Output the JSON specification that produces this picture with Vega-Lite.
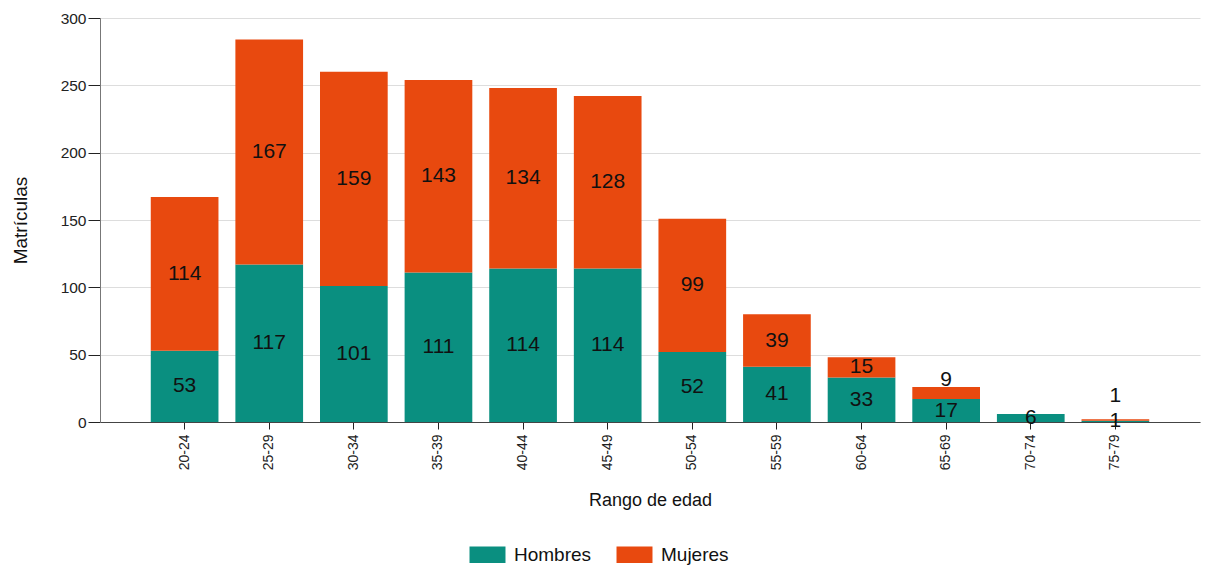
{
  "$schema": "https://vega.github.io/schema/vega-lite/v6.json",
  "width": 1100,
  "height": 404,
  "autosize": "none",
  "padding": {"left": 100, "top": 18, "right": 8, "bottom": 150},
  "background": "white",
  "config": {
    "font": "Liberation Sans",
    "view": {"stroke": null},
    "axis": {"labelColor": "#222", "titleColor": "#111", "tickColor": "#222", "titleFontWeight": "normal", "titleFontSize": 18}
  },
  "data": {
    "values": [
      {"Rango": "20-24", "Sexo": "Hombres", "value": 53},
      {"Rango": "20-24", "Sexo": "Mujeres", "value": 114},
      {"Rango": "25-29", "Sexo": "Hombres", "value": 117},
      {"Rango": "25-29", "Sexo": "Mujeres", "value": 167},
      {"Rango": "30-34", "Sexo": "Hombres", "value": 101},
      {"Rango": "30-34", "Sexo": "Mujeres", "value": 159},
      {"Rango": "35-39", "Sexo": "Hombres", "value": 111},
      {"Rango": "35-39", "Sexo": "Mujeres", "value": 143},
      {"Rango": "40-44", "Sexo": "Hombres", "value": 114},
      {"Rango": "40-44", "Sexo": "Mujeres", "value": 134},
      {"Rango": "45-49", "Sexo": "Hombres", "value": 114},
      {"Rango": "45-49", "Sexo": "Mujeres", "value": 128},
      {"Rango": "50-54", "Sexo": "Hombres", "value": 52},
      {"Rango": "50-54", "Sexo": "Mujeres", "value": 99},
      {"Rango": "55-59", "Sexo": "Hombres", "value": 41},
      {"Rango": "55-59", "Sexo": "Mujeres", "value": 39},
      {"Rango": "60-64", "Sexo": "Hombres", "value": 33},
      {"Rango": "60-64", "Sexo": "Mujeres", "value": 15},
      {"Rango": "65-69", "Sexo": "Hombres", "value": 17},
      {"Rango": "65-69", "Sexo": "Mujeres", "value": 9},
      {"Rango": "70-74", "Sexo": "Hombres", "value": 6},
      {"Rango": "70-74", "Sexo": "Mujeres", "value": 0},
      {"Rango": "75-79", "Sexo": "Hombres", "value": 1},
      {"Rango": "75-79", "Sexo": "Mujeres", "value": 1}
    ]
  },
  "encoding": {
    "x": {
      "field": "Rango",
      "type": "nominal",
      "sort": null,
      "scale": {"paddingInner": 0.2, "paddingOuter": 0.6},
      "axis": {
        "title": "Rango de edad",
        "labelAngle": -90,
        "labelFontSize": 14,
        "labelPadding": 5,
        "tickSize": 7,
        "domainColor": "#444",
        "titlePadding": 22
      }
    }
  },
  "layer": [
    {
      "mark": {"type": "bar"},
      "encoding": {
        "y": {
          "field": "value",
          "type": "quantitative",
          "stack": "zero",
          "scale": {"domain": [0, 300], "nice": false},
          "axis": {
            "title": "Matrículas",
            "values": [0, 50, 100, 150, 200, 250, 300],
            "labelFontSize": 15.5,
            "tickSize": 12,
            "labelPadding": 2,
            "domainColor": "#777",
            "gridColor": "#ddd",
            "titleX": -80,
            "titleY": 202,
            "titleBaseline": "middle",
            "titleFontSize": 19
          }
        },
        "color": {
          "field": "Sexo",
          "type": "nominal",
          "scale": {"domain": ["Hombres", "Mujeres"], "range": ["#0a8f80", "#e8490f"]},
          "legend": {
            "title": null,
            "orient": "none",
            "direction": "horizontal",
            "legendX": 371,
            "legendY": 520,
            "symbolType": "M-1.1,-0.5H1.1V0.5H-1.1Z",
            "symbolSize": 1070,
            "symbolOpacity": 1,
            "symbolStrokeWidth": 0,
            "labelFontSize": 19,
            "labelColor": "#111",
            "labelOffset": 10,
            "columnPadding": 24
          }
        },
        "order": {"field": "Sexo", "sort": "ascending"}
      }
    },
    {
      "transform": [
        {"stack": "value", "groupby": ["Rango"], "sort": [{"field": "Sexo"}], "as": ["v0", "v1"]},
        {"filter": "datum.value > 0 && !(datum.Sexo == 'Mujeres' && datum.value < 10)"},
        {"calculate": "(datum.v0 + datum.v1) / 2", "as": "mid"}
      ],
      "mark": {"type": "text", "fontSize": 21, "color": "#111", "baseline": "middle"},
      "encoding": {
        "y": {"field": "mid", "type": "quantitative"},
        "text": {"field": "value", "type": "quantitative"}
      }
    },
    {
      "transform": [
        {"stack": "value", "groupby": ["Rango"], "sort": [{"field": "Sexo"}], "as": ["v0", "v1"]},
        {"filter": "datum.Sexo == 'Mujeres' && datum.value >= 5 && datum.value < 10"}
      ],
      "mark": {"type": "text", "fontSize": 21, "color": "#111", "baseline": "alphabetic", "dy": -1},
      "encoding": {
        "y": {"field": "v1", "type": "quantitative"},
        "text": {"field": "value", "type": "quantitative"}
      }
    },
    {
      "transform": [
        {"stack": "value", "groupby": ["Rango"], "sort": [{"field": "Sexo"}], "as": ["v0", "v1"]},
        {"filter": "datum.Sexo == 'Mujeres' && datum.value > 0 && datum.value < 5"}
      ],
      "mark": {"type": "text", "fontSize": 21, "color": "#111", "baseline": "alphabetic", "dy": -17},
      "encoding": {
        "y": {"field": "v1", "type": "quantitative"},
        "text": {"field": "value", "type": "quantitative"}
      }
    }
  ]
}
